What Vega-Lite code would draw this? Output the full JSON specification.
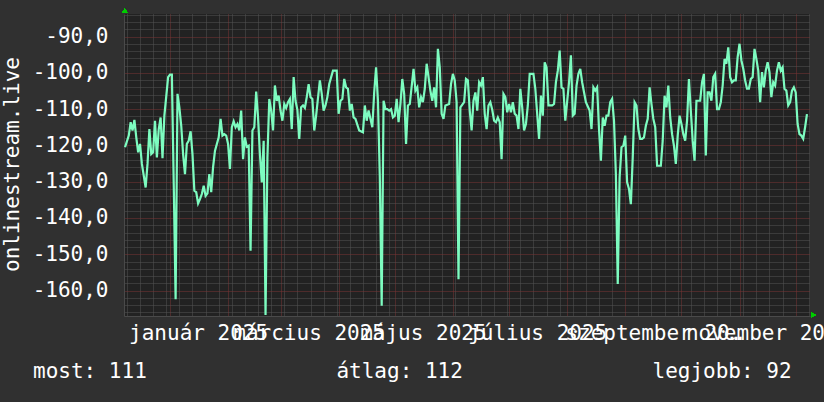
{
  "$schema": "https://vega.github.io/schema/vega-lite/v6.json",
  "width": 686,
  "height": 302,
  "autosize": {"type": "none"},
  "padding": {"left": 124, "top": 14, "right": 14, "bottom": 86},
  "background": "#303030",
  "config": {"view": {"fill": "#222222", "stroke": null}, "font": "DejaVu Sans Mono"},
  "title": {
    "text": "most: 111\u00a0\u00a0\u00a0\u00a0\u00a0\u00a0\u00a0\u00a0\u00a0\u00a0\u00a0\u00a0\u00a0\u00a0\u00a0átlag: 112\u00a0\u00a0\u00a0\u00a0\u00a0\u00a0\u00a0\u00a0\u00a0\u00a0\u00a0\u00a0\u00a0\u00a0\u00a0legjobb: 92",
    "orient": "bottom", "anchor": "start", "frame": "group",
    "font": "DejaVu Sans Mono", "fontSize": 21, "fontWeight": "normal", "color": "#ffffff",
    "dx": -91, "offset": 18
  },
  "data": {"values": [
    {"date":"2024-12-08","value":-120.5},{"date":"2024-12-10","value":-117.3},{"date":"2024-12-11","value":-113.6},{"date":"2024-12-12","value":-115.9},{"date":"2024-12-13","value":-113.0},{"date":"2024-12-14","value":-117.8},{"date":"2024-12-15","value":-121.9},{"date":"2024-12-16","value":-119.6},{"date":"2024-12-17","value":-125.1},{"date":"2024-12-19","value":-131.6},{"date":"2024-12-20","value":-125.1},{"date":"2024-12-21","value":-115.5},{"date":"2024-12-22","value":-122.4},{"date":"2024-12-23","value":-121.9},{"date":"2024-12-24","value":-113.2},{"date":"2024-12-25","value":-123.3},{"date":"2024-12-26","value":-115.5},{"date":"2024-12-27","value":-112.3},{"date":"2024-12-28","value":-123.5},{"date":"2024-12-29","value":-111.8},{"date":"2024-12-31","value":-101.2},
    {"date":"2025-01-01","value":-100.5},{"date":"2025-01-02","value":-100.5},{"date":"2025-01-03","value":-130.6},{"date":"2025-01-04","value":-162.4},{"date":"2025-01-05","value":-105.8},{"date":"2025-01-06","value":-109.5},{"date":"2025-01-07","value":-114.6},{"date":"2025-01-08","value":-122.4},{"date":"2025-01-09","value":-127.9},{"date":"2025-01-10","value":-119.6},{"date":"2025-01-11","value":-118.7},{"date":"2025-01-12","value":-116.1},{"date":"2025-01-13","value":-122.4},{"date":"2025-01-14","value":-132.5},{"date":"2025-01-15","value":-132.9},{"date":"2025-01-16","value":-136.0},{"date":"2025-01-17","value":-134.8},{"date":"2025-01-18","value":-133.4},{"date":"2025-01-19","value":-131.1},{"date":"2025-01-20","value":-133.9},{"date":"2025-01-21","value":-133.2},{"date":"2025-01-22","value":-127.9},{"date":"2025-01-23","value":-132.9},{"date":"2025-01-24","value":-126.0},{"date":"2025-01-25","value":-121.5},{"date":"2025-01-27","value":-117.8},{"date":"2025-01-28","value":-112.7},{"date":"2025-01-29","value":-117.3},{"date":"2025-01-30","value":-116.9},{"date":"2025-01-31","value":-117.3},
    {"date":"2025-02-01","value":-119.6},{"date":"2025-02-02","value":-126.5},{"date":"2025-02-03","value":-115.0},{"date":"2025-02-04","value":-113.4},{"date":"2025-02-05","value":-115.0},{"date":"2025-02-06","value":-114.1},{"date":"2025-02-07","value":-115.9},{"date":"2025-02-08","value":-110.4},{"date":"2025-02-09","value":-123.8},{"date":"2025-02-10","value":-117.8},{"date":"2025-02-11","value":-120.4},{"date":"2025-02-12","value":-120.1},{"date":"2025-02-13","value":-149.0},{"date":"2025-02-14","value":-115.9},{"date":"2025-02-15","value":-115.0},{"date":"2025-02-16","value":-105.2},{"date":"2025-02-17","value":-112.3},{"date":"2025-02-18","value":-122.4},{"date":"2025-02-19","value":-130.2},{"date":"2025-02-20","value":-118.7},{"date":"2025-02-21","value":-166.7},{"date":"2025-02-22","value":-123.3},{"date":"2025-02-23","value":-107.2},{"date":"2025-02-24","value":-110.4},{"date":"2025-02-25","value":-115.9},{"date":"2025-02-26","value":-103.5},{"date":"2025-02-27","value":-107.7},{"date":"2025-02-28","value":-106.3},
    {"date":"2025-03-01","value":-110.4},{"date":"2025-03-02","value":-113.2},{"date":"2025-03-03","value":-108.6},{"date":"2025-03-04","value":-109.7},{"date":"2025-03-05","value":-108.1},{"date":"2025-03-06","value":-107.2},{"date":"2025-03-07","value":-115.5},{"date":"2025-03-08","value":-101.2},{"date":"2025-03-09","value":-107.7},{"date":"2025-03-10","value":-110.2},{"date":"2025-03-11","value":-118.2},{"date":"2025-03-12","value":-109.5},{"date":"2025-03-13","value":-109.0},{"date":"2025-03-14","value":-109.7},{"date":"2025-03-15","value":-106.7},{"date":"2025-03-16","value":-103.1},{"date":"2025-03-17","value":-106.7},{"date":"2025-03-18","value":-107.2},{"date":"2025-03-19","value":-115.9},{"date":"2025-03-20","value":-111.8},{"date":"2025-03-22","value":-102.1},{"date":"2025-03-23","value":-105.8},{"date":"2025-03-24","value":-110.4},{"date":"2025-03-25","value":-109.0},{"date":"2025-03-26","value":-106.7},{"date":"2025-03-27","value":-103.1},{"date":"2025-03-29","value":-99.4},{"date":"2025-03-31","value":-99.4},
    {"date":"2025-04-01","value":-111.3},{"date":"2025-04-02","value":-107.7},{"date":"2025-04-03","value":-107.2},{"date":"2025-04-04","value":-101.7},{"date":"2025-04-05","value":-104.0},{"date":"2025-04-06","value":-104.4},{"date":"2025-04-07","value":-110.4},{"date":"2025-04-08","value":-108.6},{"date":"2025-04-09","value":-112.3},{"date":"2025-04-10","value":-112.7},{"date":"2025-04-12","value":-115.9},{"date":"2025-04-14","value":-116.4},{"date":"2025-04-15","value":-109.0},{"date":"2025-04-16","value":-113.2},{"date":"2025-04-17","value":-110.4},{"date":"2025-04-19","value":-115.0},{"date":"2025-04-20","value":-105.4},{"date":"2025-04-21","value":-98.5},{"date":"2025-04-22","value":-107.7},{"date":"2025-04-23","value":-128.8},{"date":"2025-04-24","value":-164.2},{"date":"2025-04-25","value":-107.7},{"date":"2025-04-26","value":-110.0},{"date":"2025-04-27","value":-110.0},{"date":"2025-04-28","value":-110.4},{"date":"2025-04-29","value":-110.0},{"date":"2025-04-30","value":-112.3},
    {"date":"2025-05-01","value":-111.8},{"date":"2025-05-02","value":-107.2},{"date":"2025-05-03","value":-113.6},{"date":"2025-05-04","value":-108.6},{"date":"2025-05-05","value":-101.7},{"date":"2025-05-06","value":-105.8},{"date":"2025-05-07","value":-119.6},{"date":"2025-05-08","value":-109.0},{"date":"2025-05-09","value":-108.6},{"date":"2025-05-11","value":-98.9},{"date":"2025-05-12","value":-104.9},{"date":"2025-05-13","value":-104.0},{"date":"2025-05-14","value":-109.5},{"date":"2025-05-15","value":-106.7},{"date":"2025-05-16","value":-108.1},{"date":"2025-05-17","value":-104.4},{"date":"2025-05-18","value":-97.5},{"date":"2025-05-19","value":-101.2},{"date":"2025-05-20","value":-104.9},{"date":"2025-05-21","value":-107.7},{"date":"2025-05-22","value":-104.0},{"date":"2025-05-23","value":-109.5},{"date":"2025-05-24","value":-93.4},{"date":"2025-05-25","value":-98.5},{"date":"2025-05-26","value":-111.3},{"date":"2025-05-27","value":-112.7},{"date":"2025-05-28","value":-109.0},{"date":"2025-05-30","value":-108.6},{"date":"2025-05-31","value":-103.1},
    {"date":"2025-06-01","value":-100.3},{"date":"2025-06-02","value":-102.1},{"date":"2025-06-03","value":-108.1},{"date":"2025-06-04","value":-156.9},{"date":"2025-06-05","value":-109.5},{"date":"2025-06-07","value":-108.1},{"date":"2025-06-08","value":-101.7},{"date":"2025-06-09","value":-102.1},{"date":"2025-06-10","value":-110.4},{"date":"2025-06-11","value":-115.9},{"date":"2025-06-12","value":-107.7},{"date":"2025-06-13","value":-105.4},{"date":"2025-06-14","value":-110.4},{"date":"2025-06-15","value":-102.6},{"date":"2025-06-16","value":-103.5},{"date":"2025-06-17","value":-101.2},{"date":"2025-06-18","value":-111.3},{"date":"2025-06-19","value":-115.5},{"date":"2025-06-20","value":-109.0},{"date":"2025-06-21","value":-108.1},{"date":"2025-06-22","value":-110.2},{"date":"2025-06-23","value":-113.2},{"date":"2025-06-24","value":-113.6},{"date":"2025-06-25","value":-112.3},{"date":"2025-06-26","value":-113.6},{"date":"2025-06-27","value":-123.8},{"date":"2025-06-28","value":-105.8},{"date":"2025-06-29","value":-106.7},{"date":"2025-06-30","value":-110.9},
    {"date":"2025-07-01","value":-108.6},{"date":"2025-07-02","value":-110.9},{"date":"2025-07-03","value":-108.1},{"date":"2025-07-04","value":-111.3},{"date":"2025-07-05","value":-111.8},{"date":"2025-07-06","value":-115.5},{"date":"2025-07-07","value":-104.4},{"date":"2025-07-08","value":-109.5},{"date":"2025-07-09","value":-115.9},{"date":"2025-07-10","value":-114.1},{"date":"2025-07-11","value":-109.0},{"date":"2025-07-12","value":-100.3},{"date":"2025-07-14","value":-100.3},{"date":"2025-07-15","value":-104.4},{"date":"2025-07-16","value":-111.3},{"date":"2025-07-17","value":-118.2},{"date":"2025-07-18","value":-106.3},{"date":"2025-07-19","value":-111.8},{"date":"2025-07-20","value":-97.1},{"date":"2025-07-21","value":-98.5},{"date":"2025-07-22","value":-109.0},{"date":"2025-07-24","value":-109.0},{"date":"2025-07-25","value":-108.6},{"date":"2025-07-26","value":-102.6},{"date":"2025-07-27","value":-99.4},{"date":"2025-07-28","value":-93.9},{"date":"2025-07-29","value":-104.0},{"date":"2025-07-30","value":-104.4},{"date":"2025-07-31","value":-113.2},
    {"date":"2025-08-02","value":-102.6},{"date":"2025-08-03","value":-95.2},{"date":"2025-08-04","value":-111.8},{"date":"2025-08-05","value":-111.3},{"date":"2025-08-06","value":-103.5},{"date":"2025-08-07","value":-100.3},{"date":"2025-08-08","value":-98.9},{"date":"2025-08-09","value":-102.6},{"date":"2025-08-11","value":-108.1},{"date":"2025-08-13","value":-110.4},{"date":"2025-08-14","value":-115.5},{"date":"2025-08-15","value":-104.0},{"date":"2025-08-16","value":-104.9},{"date":"2025-08-17","value":-104.0},{"date":"2025-08-18","value":-115.5},{"date":"2025-08-19","value":-124.2},{"date":"2025-08-20","value":-112.3},{"date":"2025-08-21","value":-114.6},{"date":"2025-08-22","value":-111.8},{"date":"2025-08-23","value":-111.8},{"date":"2025-08-24","value":-108.1},{"date":"2025-08-25","value":-107.2},{"date":"2025-08-26","value":-113.2},{"date":"2025-08-27","value":-127.9},{"date":"2025-08-28","value":-158.2},{"date":"2025-08-29","value":-128.8},{"date":"2025-08-30","value":-120.5},{"date":"2025-08-31","value":-120.1},
    {"date":"2025-09-01","value":-117.3},{"date":"2025-09-02","value":-130.2},{"date":"2025-09-03","value":-132.0},{"date":"2025-09-04","value":-136.2},{"date":"2025-09-05","value":-123.3},{"date":"2025-09-06","value":-108.1},{"date":"2025-09-07","value":-109.0},{"date":"2025-09-08","value":-115.5},{"date":"2025-09-09","value":-118.2},{"date":"2025-09-10","value":-118.2},{"date":"2025-09-11","value":-117.8},{"date":"2025-09-12","value":-114.6},{"date":"2025-09-13","value":-112.7},{"date":"2025-09-14","value":-104.0},{"date":"2025-09-15","value":-108.6},{"date":"2025-09-16","value":-112.7},{"date":"2025-09-17","value":-115.0},{"date":"2025-09-18","value":-125.6},{"date":"2025-09-20","value":-125.6},{"date":"2025-09-21","value":-118.7},{"date":"2025-09-22","value":-106.3},{"date":"2025-09-23","value":-109.5},{"date":"2025-09-24","value":-103.5},{"date":"2025-09-25","value":-112.3},{"date":"2025-09-26","value":-116.9},{"date":"2025-09-27","value":-120.1},{"date":"2025-09-28","value":-125.1},{"date":"2025-09-29","value":-117.3},{"date":"2025-09-30","value":-111.8},
    {"date":"2025-10-01","value":-114.1},{"date":"2025-10-02","value":-116.9},{"date":"2025-10-03","value":-118.7},{"date":"2025-10-04","value":-113.2},{"date":"2025-10-05","value":-101.7},{"date":"2025-10-06","value":-110.4},{"date":"2025-10-07","value":-118.7},{"date":"2025-10-08","value":-124.2},{"date":"2025-10-09","value":-107.7},{"date":"2025-10-11","value":-107.7},{"date":"2025-10-12","value":-102.6},{"date":"2025-10-13","value":-100.3},{"date":"2025-10-14","value":-122.8},{"date":"2025-10-15","value":-105.4},{"date":"2025-10-16","value":-105.4},{"date":"2025-10-17","value":-107.7},{"date":"2025-10-18","value":-101.2},{"date":"2025-10-19","value":-100.3},{"date":"2025-10-20","value":-110.0},{"date":"2025-10-21","value":-110.0},{"date":"2025-10-22","value":-108.1},{"date":"2025-10-23","value":-103.5},{"date":"2025-10-24","value":-96.2},{"date":"2025-10-25","value":-97.5},{"date":"2025-10-26","value":-93.0},{"date":"2025-10-27","value":-101.2},{"date":"2025-10-28","value":-102.6},{"date":"2025-10-29","value":-102.1},{"date":"2025-10-30","value":-102.1},{"date":"2025-10-31","value":-95.7},
    {"date":"2025-11-01","value":-92.0},{"date":"2025-11-02","value":-96.6},{"date":"2025-11-03","value":-98.9},{"date":"2025-11-04","value":-102.1},{"date":"2025-11-05","value":-104.4},{"date":"2025-11-06","value":-104.4},{"date":"2025-11-07","value":-101.7},{"date":"2025-11-08","value":-101.2},{"date":"2025-11-09","value":-93.4},{"date":"2025-11-10","value":-96.2},{"date":"2025-11-11","value":-99.4},{"date":"2025-11-12","value":-108.1},{"date":"2025-11-13","value":-99.8},{"date":"2025-11-14","value":-104.0},{"date":"2025-11-15","value":-99.4},{"date":"2025-11-16","value":-97.1},{"date":"2025-11-17","value":-99.8},{"date":"2025-11-18","value":-106.7},{"date":"2025-11-19","value":-102.6},{"date":"2025-11-20","value":-103.5},{"date":"2025-11-21","value":-99.4},{"date":"2025-11-22","value":-97.1},{"date":"2025-11-23","value":-99.4},{"date":"2025-11-24","value":-98.5},{"date":"2025-11-25","value":-104.4},{"date":"2025-11-26","value":-104.9},{"date":"2025-11-27","value":-109.0},{"date":"2025-11-28","value":-108.1},{"date":"2025-11-29","value":-104.9},{"date":"2025-11-30","value":-104.0},
    {"date":"2025-12-01","value":-105.4},{"date":"2025-12-02","value":-114.1},{"date":"2025-12-03","value":-116.9},{"date":"2025-12-04","value":-117.3},{"date":"2025-12-05","value":-118.2},{"date":"2025-12-06","value":-115.0},{"date":"2025-12-07","value":-111.4}
  ]},
  "layer": [
    {
      "mark": {"type": "line", "color": "#7dfcc0", "strokeWidth": 2.2, "clip": true},
      "encoding": {
        "x": {
          "field": "date", "type": "temporal",
          "scale": {"type": "utc", "domain": [{"year":2024,"month":12,"date":7,"hours":10,"minutes":48,"utc":true},{"year":2025,"month":12,"date":8,"hours":14,"minutes":53,"utc":true}]},
          "axis": {
            "title": null,
            "tickCount": 1000,
            "values": [
              {"year":2024,"month":12,"date":9,"utc":true},{"year":2024,"month":12,"date":16,"utc":true},{"year":2024,"month":12,"date":23,"utc":true},{"year":2024,"month":12,"date":30,"utc":true},
              {"year":2025,"month":1,"date":1,"utc":true},{"year":2025,"month":1,"date":6,"utc":true},{"year":2025,"month":1,"date":13,"utc":true},{"year":2025,"month":1,"date":16,"utc":true},{"year":2025,"month":1,"date":20,"utc":true},{"year":2025,"month":1,"date":27,"utc":true},
              {"year":2025,"month":2,"date":1,"utc":true},{"year":2025,"month":2,"date":3,"utc":true},{"year":2025,"month":2,"date":10,"utc":true},{"year":2025,"month":2,"date":17,"utc":true},{"year":2025,"month":2,"date":24,"utc":true},
              {"year":2025,"month":3,"date":1,"utc":true},{"year":2025,"month":3,"date":3,"utc":true},{"year":2025,"month":3,"date":10,"utc":true},{"year":2025,"month":3,"date":16,"utc":true},{"year":2025,"month":3,"date":17,"utc":true},{"year":2025,"month":3,"date":24,"utc":true},{"year":2025,"month":3,"date":31,"utc":true},
              {"year":2025,"month":4,"date":1,"utc":true},{"year":2025,"month":4,"date":7,"utc":true},{"year":2025,"month":4,"date":14,"utc":true},{"year":2025,"month":4,"date":21,"utc":true},{"year":2025,"month":4,"date":28,"utc":true},
              {"year":2025,"month":5,"date":1,"utc":true},{"year":2025,"month":5,"date":5,"utc":true},{"year":2025,"month":5,"date":12,"utc":true},{"year":2025,"month":5,"date":16,"utc":true},{"year":2025,"month":5,"date":19,"utc":true},{"year":2025,"month":5,"date":26,"utc":true},
              {"year":2025,"month":6,"date":1,"utc":true},{"year":2025,"month":6,"date":2,"utc":true},{"year":2025,"month":6,"date":9,"utc":true},{"year":2025,"month":6,"date":16,"utc":true},{"year":2025,"month":6,"date":23,"utc":true},{"year":2025,"month":6,"date":30,"utc":true},
              {"year":2025,"month":7,"date":1,"utc":true},{"year":2025,"month":7,"date":7,"utc":true},{"year":2025,"month":7,"date":14,"utc":true},{"year":2025,"month":7,"date":16,"utc":true},{"year":2025,"month":7,"date":21,"utc":true},{"year":2025,"month":7,"date":28,"utc":true},
              {"year":2025,"month":8,"date":1,"utc":true},{"year":2025,"month":8,"date":4,"utc":true},{"year":2025,"month":8,"date":11,"utc":true},{"year":2025,"month":8,"date":18,"utc":true},{"year":2025,"month":8,"date":25,"utc":true},
              {"year":2025,"month":9,"date":1,"utc":true},{"year":2025,"month":9,"date":8,"utc":true},{"year":2025,"month":9,"date":15,"utc":true},{"year":2025,"month":9,"date":16,"utc":true},{"year":2025,"month":9,"date":22,"utc":true},{"year":2025,"month":9,"date":29,"utc":true},
              {"year":2025,"month":10,"date":1,"utc":true},{"year":2025,"month":10,"date":6,"utc":true},{"year":2025,"month":10,"date":13,"utc":true},{"year":2025,"month":10,"date":20,"utc":true},{"year":2025,"month":10,"date":27,"utc":true},
              {"year":2025,"month":11,"date":1,"utc":true},{"year":2025,"month":11,"date":3,"utc":true},{"year":2025,"month":11,"date":10,"utc":true},{"year":2025,"month":11,"date":16,"utc":true},{"year":2025,"month":11,"date":17,"utc":true},{"year":2025,"month":11,"date":24,"utc":true},
              {"year":2025,"month":12,"date":1,"utc":true},{"year":2025,"month":12,"date":8,"utc":true}
            ],
            "domain": true,
            "domainColor": "#4a4a4a",
            "domainWidth": 1,
            "ticks": false,
            "tickSize": 0,
            "grid": true,
            "gridDash": [1, 1],
            "gridWidth": 1,
            "gridColor": {"condition": {"test": "utcdate(datum.value) == 1", "value": "#7a3434"}, "value": "#555555"},
            "gridOpacity": {"condition": {"test": "utcdate(datum.value) == 16 && utcmonth(datum.value) % 2 == 0", "value": 0}, "value": 1},
            "labelExpr": "utcdate(datum.value) == 16 && utcmonth(datum.value) % 2 == 0 ? ['január','február','március','április','május','június','július','augusztus','szeptember','október','november','december'][utcmonth(datum.value)] + ' ' + utcyear(datum.value) : ''",
            "labelFont": "DejaVu Sans Mono",
            "labelFontSize": 21,
            "labelColor": "#ffffff",
            "labelOverlap": false,
            "labelBound": false,
            "labelFlush": false,
            "labelBaseline": "alphabetic",
            "labelPadding": 23
          }
        },
        "y": {
          "field": "value", "type": "quantitative",
          "scale": {"domain": [-167, -83.8], "nice": false, "zero": false},
          "axis": {
            "title": "onlinestream.live",
            "titleFont": "DejaVu Sans Mono",
            "titleFontSize": 21,
            "titleFontWeight": "normal",
            "titleColor": "#ffffff",
            "titleAngle": 270,
            "titleAlign": "center",
            "titleBaseline": "alphabetic",
            "titleX": -106,
            "titleY": 150,
            "tickCount": 1000,
            "values": [-166,-164,-162,-160,-158,-156,-154,-152,-150,-148,-146,-144,-142,-140,-138,-136,-134,-132,-130,-128,-126,-124,-122,-120,-118,-116,-114,-112,-110,-108,-106,-104,-102,-100,-98,-96,-94,-92,-90,-88,-86,-84],
            "domain": true,
            "domainColor": "#4a4a4a",
            "domainWidth": 1,
            "ticks": false,
            "tickSize": 0,
            "grid": true,
            "gridDash": [1, 1],
            "gridWidth": 1,
            "gridColor": {"condition": {"test": "datum.value % 10 == 0", "value": "#7a3434"}, "value": "#555555"},
            "labelExpr": "datum.value % 10 == 0 ? '-' + replace(format(-datum.value, '.1f'), '.', ',') : ''",
            "labelFont": "DejaVu Sans Mono",
            "labelFontSize": 21,
            "labelColor": "#ffffff",
            "labelPadding": 16,
            "labelBaseline": "middle",
            "labelOverlap": false,
            "labelBound": false
          }
        }
      }
    },
    {
      "mark": {"type": "point", "shape": "triangle-up", "filled": true, "color": "#00cc00", "opacity": 1, "size": 24, "clip": false},
      "encoding": {
        "x": {"datum": {"year":2024,"month":12,"date":7,"hours":21,"utc":true}, "type": "temporal"},
        "y": {"datum": -82.9, "type": "quantitative"}
      }
    },
    {
      "mark": {"type": "point", "shape": "triangle-right", "filled": true, "color": "#00cc00", "opacity": 1, "size": 24, "clip": false},
      "encoding": {
        "x": {"datum": {"year":2025,"month":12,"date":10,"hours":12,"utc":true}, "type": "temporal"},
        "y": {"datum": -166.7, "type": "quantitative"}
      }
    }
  ]
}
